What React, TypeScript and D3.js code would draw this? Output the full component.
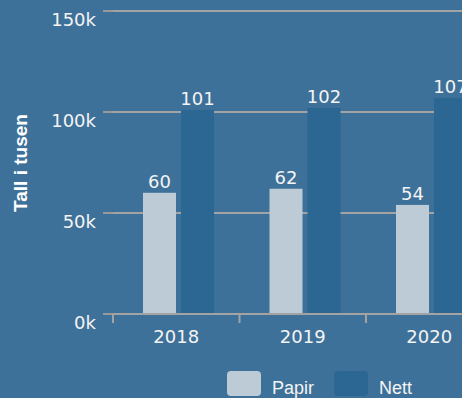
import React from "react";
import * as d3 from "d3";

const categories = ["2018", "2019", "2020"];
const papir = [60, 62, 54];
const nett = [101, 102, 107];
const seriesNames = ["Papir", "Nett"];
const yTicks = [0, 50, 100, 150];
const yTickLabels = ["0k", "50k", "100k", "150k"];

const W = 462;
const H = 398;
const BG = "#3e7199";
const C_PAPIR = "#bccbd6";
const C_NETT = "#2b6792";
const GRID = "#a3a3a3";
const NUM_FONT = "'DejaVu Sans', sans-serif";
const SANS = "'Liberation Sans', Arial, sans-serif";

export default function App() {
  const y = d3.scaleLinear().domain([0, 150]).range([314, 11]);
  const x = d3.scaleBand().domain(categories).range([113, 113 + 126.5 * 3]).paddingInner(0).paddingOuter(0);
  const barW = 33;
  const offPapir = 30;
  const offNett = 68;
  const series = [
    { name: seriesNames[0], values: papir, color: C_PAPIR, off: offPapir },
    { name: seriesNames[1], values: nett, color: C_NETT, off: offNett },
  ];
  const boundaries = categories.map((c) => x(c)!);

  return (
    <svg
      width={W}
      height={H}
      style={{ position: "absolute", left: 0, top: 0, display: "block" }}
    >
      <rect x={0} y={0} width={W} height={H} fill={BG} />
      {/* gridlines */}
      {yTicks.map((t) => (
        <g key={t}>
          <line x1={103} x2={W} y1={y(t)} y2={y(t)} stroke={GRID} strokeWidth={2} />
          <line x1={103} x2={113} y1={y(t)} y2={y(t)} stroke="#999" strokeWidth={2} />
          <text
            x={96}
            y={y(t) + 14.5}
            textAnchor="end"
            fill="#f4f4f4"
            fontFamily={NUM_FONT}
            fontSize={18}
          >
            {yTickLabels[yTicks.indexOf(t)]}
          </text>
        </g>
      ))}
      {/* x ticks */}
      {boundaries.map((b, i) => (
        <line key={i} x1={b} x2={b} y1={314} y2={323} stroke={GRID} strokeWidth={2} />
      ))}
      {/* bars */}
      {series.map((s) =>
        categories.map((c, i) => {
          const bx = x(c)! + s.off;
          const top = y(s.values[i]);
          return (
            <g key={s.name + c}>
              <rect x={bx} y={top} width={barW} height={y(0) - top - 1} fill={s.color} />
              <text
                x={bx + barW / 2}
                y={top - 5}
                textAnchor="middle"
                fill="#f4f4f4"
                fontFamily={NUM_FONT}
                fontSize={18}
              >
                {s.values[i]}
              </text>
            </g>
          );
        })
      )}
      {/* category labels */}
      {categories.map((c) => (
        <text
          key={c}
          x={x(c)! + x.bandwidth() / 2}
          y={343}
          textAnchor="middle"
          fill="#f4f4f4"
          fontFamily={NUM_FONT}
          fontSize={18}
        >
          {c}
        </text>
      ))}
      {/* y axis title */}
      <text
        transform={`translate(27,163) rotate(-90)`}
        textAnchor="middle"
        fill="#ffffff"
        fontFamily={SANS}
        fontWeight="bold"
        fontSize={19}
      >
        Tall i tusen
      </text>
      {/* legend */}
      {series.map((s, i) => {
        const lx = 227 + i * 107;
        return (
          <g key={s.name}>
            <rect x={lx} y={371} width={34} height={25} rx={4} fill={s.color} />
            <text x={lx + 45} y={394} fill="#f4f4f4" fontFamily={SANS} fontSize={18}>
              {s.name}
            </text>
          </g>
        );
      })}
    </svg>
  );
}
